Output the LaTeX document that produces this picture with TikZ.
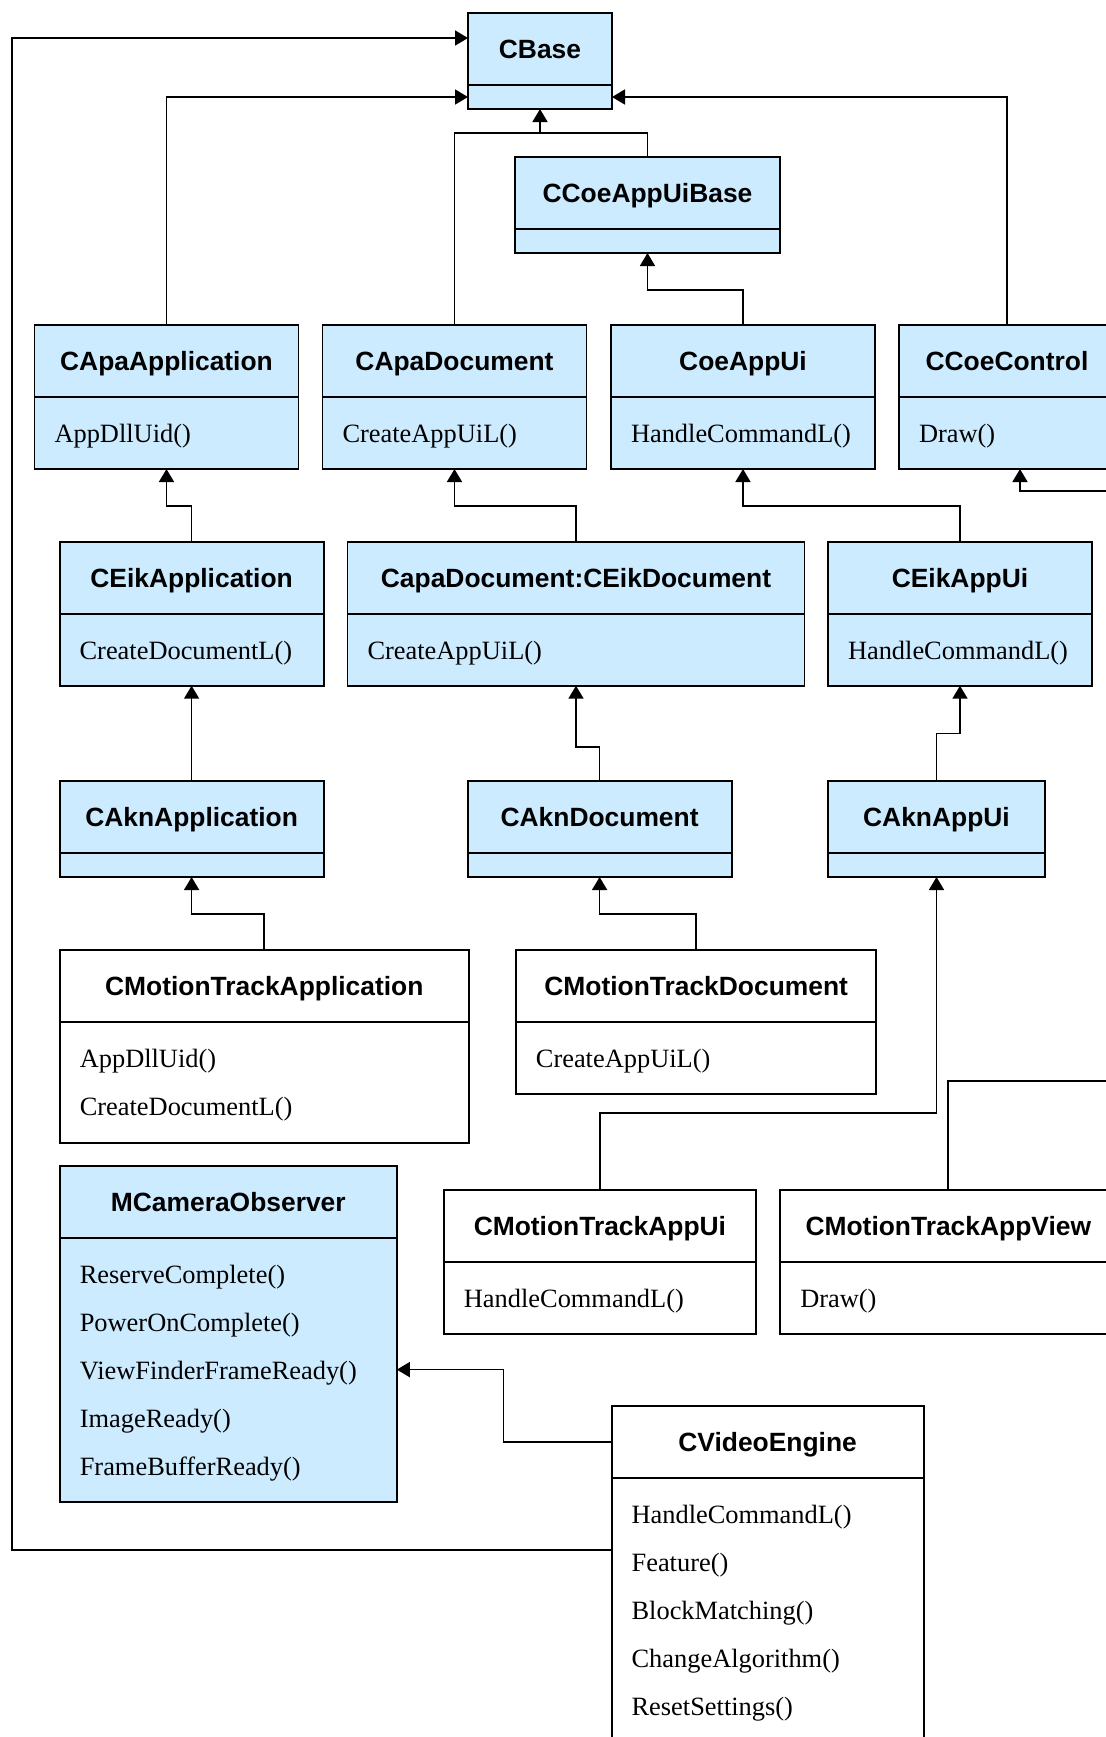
\documentclass[tikz,border=0pt]{standalone}
\usepackage{fontspec}
\setmainfont{Liberation Serif}
\setsansfont{Liberation Sans}
\usetikzlibrary{arrows.meta}
\definecolor{umlblue}{RGB}{204,235,255}

\begin{document}
\begin{tikzpicture}[x=0.5pt, y=-0.5pt,
	cls/.style={rectangle, draw, line width=0.95pt, outer sep=0pt, inner sep=0pt, anchor=north west,
		minimum height=36pt, text height=9.45pt, text depth=0pt,
		font=\sffamily\bfseries\fontsize{13.2}{16}\selectfont},
	mth/.style={rectangle, draw, line width=0.95pt, outer sep=0pt, inner xsep=10pt, inner ysep=0pt,
		text height=12.5pt, anchor=north, align=left, font=\fontsize{13.2}{24}\selectfont},
	nomth/.style={text height=0pt, minimum height=12pt},
	filled/.style={fill=umlblue},
	inh/.style={-{Triangle[length=6.5pt, width=7.5pt]}, line width=0.85pt}]

	\useasboundingbox (0,0) rectangle (1106,1737);
	\clip (0,0) rectangle (1106,1737);

	\node[cls, filled, minimum width=72pt] (base) at (468,13) {CBase};
	\node[mth, nomth, filled, text width=52pt] (base-m) at (base.south) {};

	\node[cls, filled, minimum width=132.5pt] (coebase) at (515,157) {CCoeAppUiBase};
	\node[mth, nomth, filled, text width=112.5pt] (coebase-m) at (coebase.south) {};

	\node[cls, filled, minimum width=132pt] (apaapp) at (34.5,325) {CApaApplication};
	\node[mth, filled, text width=112pt, minimum height=36pt] (apaapp-m) at (apaapp.south) {AppDllUid()};

	\node[cls, filled, minimum width=132pt] (apadoc) at (322.5,325) {CApaDocument};
	\node[mth, filled, text width=112pt, minimum height=36pt] (apadoc-m) at (apadoc.south) {CreateAppUiL()};

	\node[cls, filled, minimum width=132pt] (coeappui) at (611,325) {CoeAppUi};
	\node[mth, filled, text width=112pt, minimum height=36pt] (coeappui-m) at (coeappui.south) {HandleCommandL()};

	\node[cls, filled, minimum width=108pt] (coectl) at (899,325) {CCoeControl};
	\node[mth, filled, text width=88pt, minimum height=36pt] (coectl-m) at (coectl.south) {Draw()};

	\node[cls, filled, minimum width=132pt] (eikapp) at (59.6,541.7) {CEikApplication};
	\node[mth, filled, text width=112pt, minimum height=36pt] (eikapp-m) at (eikapp.south) {CreateDocumentL()};

	\node[cls, filled, minimum width=228.5pt] (eikdoc) at (347.5,541.7) {CapaDocument:CEikDocument};
	\node[mth, filled, text width=208.5pt, minimum height=36pt] (eikdoc-m) at (eikdoc.south) {CreateAppUiL()};

	\node[cls, filled, minimum width=132pt] (eikappui) at (828,541.7) {CEikAppUi};
	\node[mth, filled, text width=112pt, minimum height=36pt] (eikappui-m) at (eikappui.south) {HandleCommandL()};

	\node[cls, filled, minimum width=132pt] (aknapp) at (59.6,781) {CAknApplication};
	\node[mth, nomth, filled, text width=112pt] (aknapp-m) at (aknapp.south) {};

	\node[cls, filled, minimum width=132pt] (akndoc) at (467.6,781) {CAknDocument};
	\node[mth, nomth, filled, text width=112pt] (akndoc-m) at (akndoc.south) {};

	\node[cls, filled, minimum width=108.5pt] (aknappui) at (828,781) {CAknAppUi};
	\node[mth, nomth, filled, text width=88.5pt] (aknappui-m) at (aknappui.south) {};

	\node[cls, minimum width=204.5pt] (mtapp) at (59.8,949.6) {CMotionTrackApplication};
	\node[mth, text width=184.5pt, minimum height=60.5pt] (mtapp-m) at (mtapp.south) {AppDllUid()\\CreateDocumentL()};

	\node[cls, minimum width=180.25pt] (mtdoc) at (515.9,949.6) {CMotionTrackDocument};
	\node[mth, text width=160.25pt, minimum height=36pt] (mtdoc-m) at (mtdoc.south) {CreateAppUiL()};

	\node[cls, filled, minimum width=168.5pt] (camobs) at (59.8,1165.6) {MCameraObserver};
	\node[mth, filled, text width=148.5pt, minimum height=132pt] (camobs-m) at (camobs.south)
		{ReserveComplete()\\PowerOnComplete()\\ViewFinderFrameReady()\\ImageReady()\\FrameBufferReady()};

	\node[cls, minimum width=156pt] (mtappui) at (443.9,1190) {CMotionTrackAppUi};
	\node[mth, text width=136pt, minimum height=36pt] (mtappui-m) at (mtappui.south) {HandleCommandL()};

	\node[cls, minimum width=168pt] (mtview) at (780.3,1190) {CMotionTrackAppView};
	\node[mth, text width=148pt, minimum height=36pt] (mtview-m) at (mtview.south) {Draw()};

	\node[cls, minimum width=156pt] (video) at (611.6,1405.7) {CVideoEngine};
	\node[mth, text width=136pt, minimum height=132pt] (video-m) at (video.south)
		{HandleCommandL()\\Feature()\\BlockMatching()\\ChangeAlgorithm()\\ResetSettings()};

	\coordinate (ctl-feed) at (1110,491);
	\coordinate (view-out) at (1110,1080.7);

	\draw[inh] (video-m.north west) ++(0,72) -| (12,38) -- ([yshift=5.5pt]base.west);
	\draw[inh] (apaapp.north) |- (base-m.west);
	\draw[line width=0.85pt] (apadoc.north) -- ++(0,-192) -| (coebase.north);
	\draw[inh] (base-m.south) ++(0,24) -- (base-m.south);
	\draw[inh] (coectl.north) |- (base-m.east);
	\draw[inh] (coeappui.north) -- ++(0,-35) -| (coebase-m.south);

	\draw[inh] (eikapp.north) -- ++(0,-36) -| (apaapp-m.south);
	\draw[inh] (eikdoc.north) -- ++(0,-36) -| (apadoc-m.south);
	\draw[inh] (eikappui.north) -- ++(0,-36) -| (coeappui-m.south);
	\draw[inh] (ctl-feed) -| ([xshift=6.5pt]coectl-m.south);

	\draw[inh] (aknapp.north) -- (eikapp-m.south);
	\draw[inh] (akndoc.north) -- ++(0,-34) -| (eikdoc-m.south);
	\draw[inh] (aknappui.north) -- ++(0,-47.5) -| (eikappui-m.south);

	\draw[inh] (mtapp.north) -- ++(0,-35.6) -| (aknapp-m.south);
	\draw[inh] (mtdoc.north) -- ++(0,-35.6) -| (akndoc-m.south);
	\draw[inh] (mtappui.north) -- ++(0,-77) -| (aknappui-m.south);
	\draw[line width=0.85pt] (mtview.north) |- (view-out);

	\draw[inh] (video.west) -- ++(-108,0) |- (camobs-m.east);
\end{tikzpicture}
\end{document}
